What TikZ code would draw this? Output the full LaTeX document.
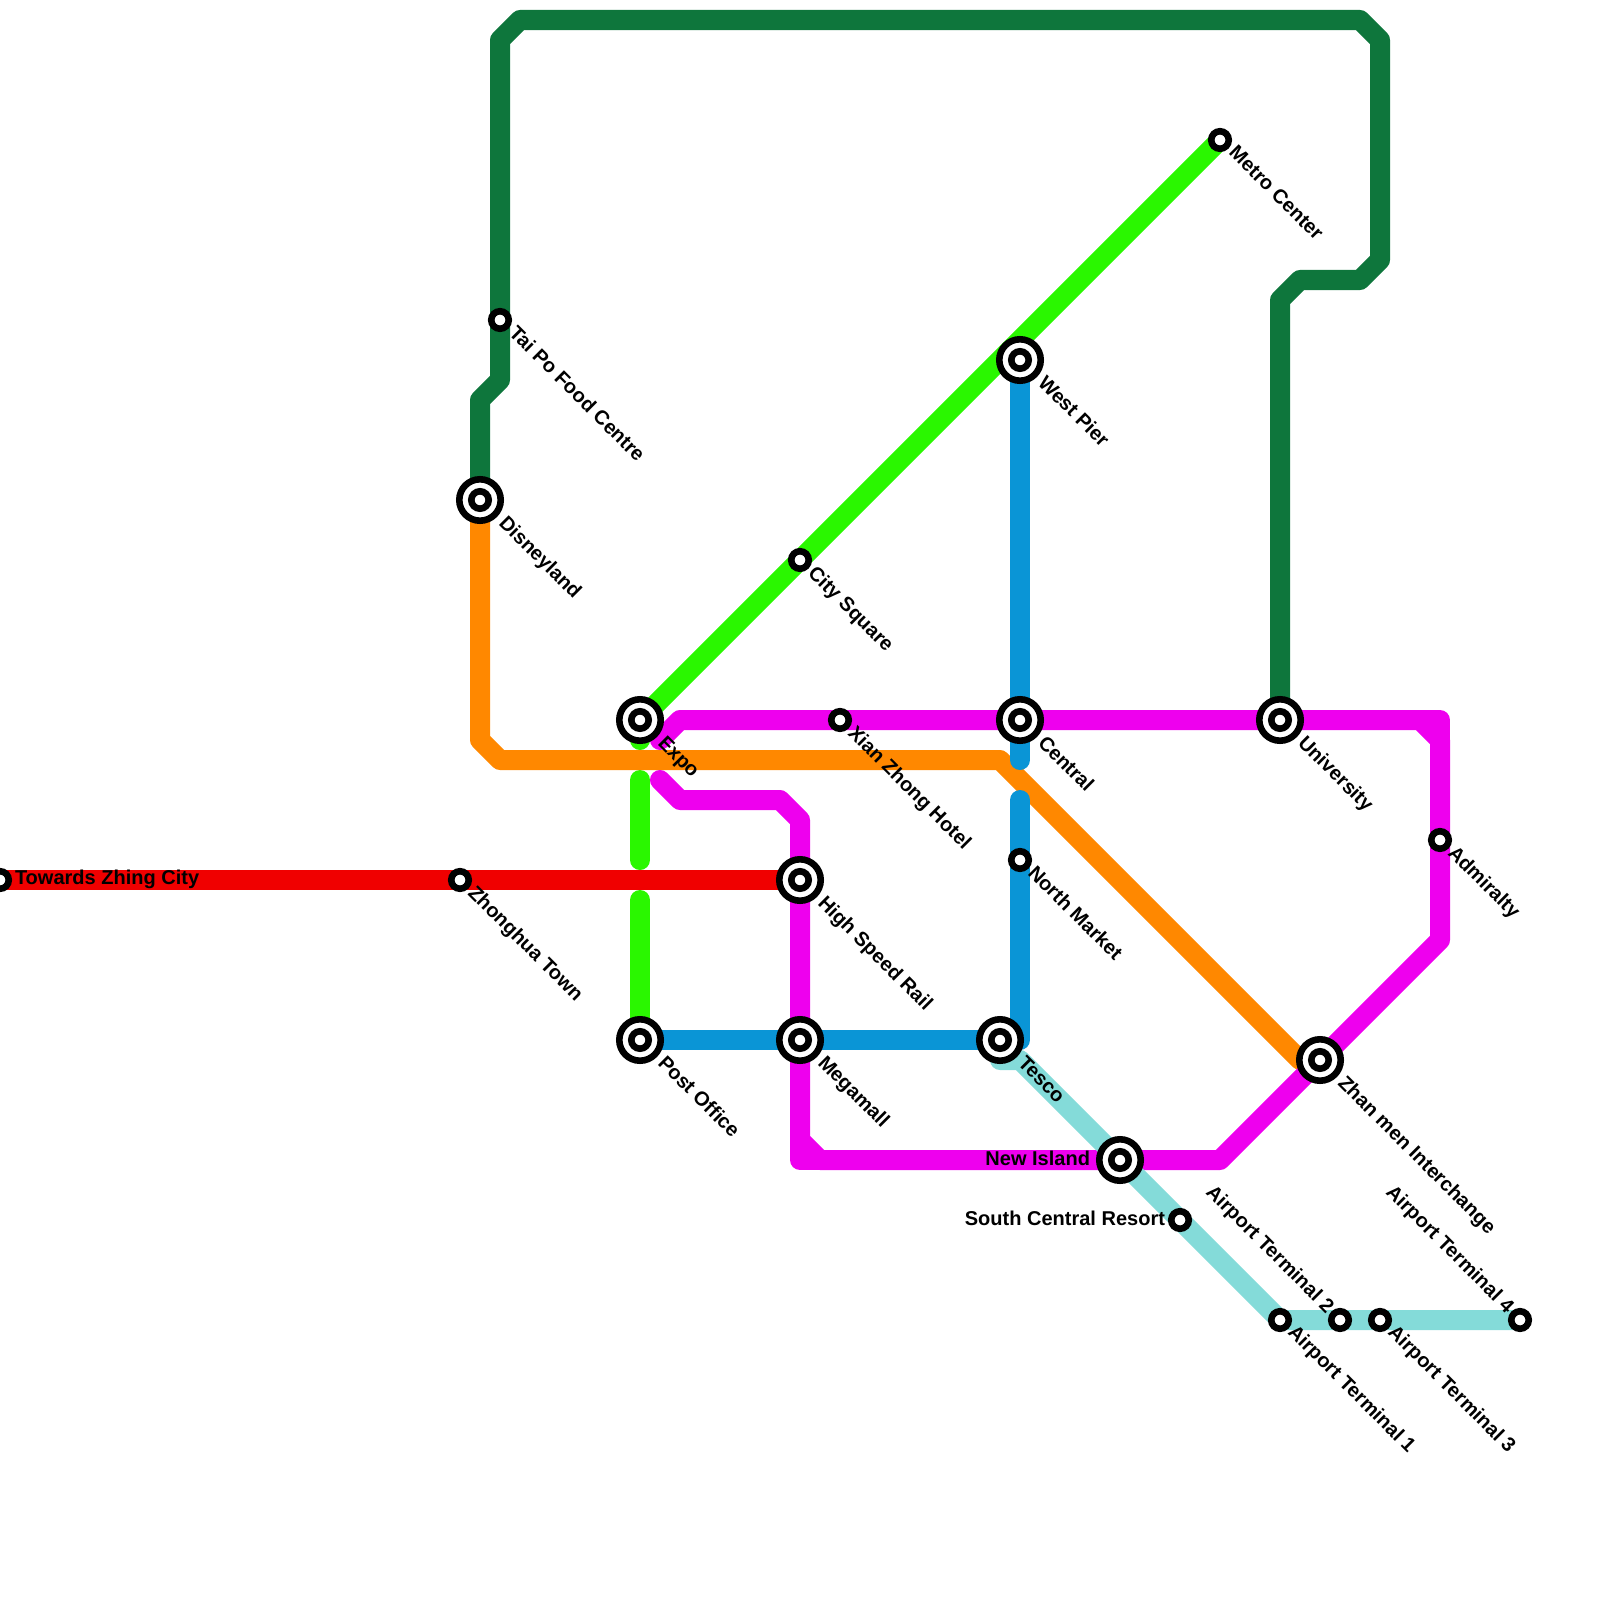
\documentclass[tikz,border=0pt]{standalone}
\usepackage{fontspec}
\setmainfont{Liberation Sans}
\usetikzlibrary{backgrounds}
\definecolor{cDark}{HTML}{0E763C}
\definecolor{cOrange}{HTML}{FF8800}
\definecolor{cGreen}{HTML}{2AF700}
\definecolor{cMag}{HTML}{EE00EE}
\definecolor{cBlue}{HTML}{0A95D6}
\definecolor{cTeal}{HTML}{84DBD9}
\definecolor{cRed}{HTML}{F00000}
\tikzset{
  railline/.style={line width=0.2cm,line join=round,line cap=round},
  smallst/.style={circle,draw=black,fill=white,line width=0.066cm,minimum size=0.175cm,inner sep=0pt,outer sep=0pt},
  bigst/.style={circle,draw=black,fill=white,line width=0.066cm,minimum size=0.414cm,inner sep=0pt,outer sep=0pt,
    path picture={\draw[black,line width=0.066cm] (path picture bounding box.center) circle (0.087cm);}},
  lab/.style={font=\fontsize{5.69}{7}\bfseries\selectfont,inner sep=0pt,outer sep=0pt,text=black},
  dr/.style={lab,anchor=base west,rotate=-45},
  ur/.style={lab,anchor=base east,rotate=-45},
  hl/.style={lab,anchor=base east},
  hr/.style={lab,anchor=base west}
}
\begin{document}
\begin{tikzpicture}[x=0.01cm,y=-0.01cm]
\useasboundingbox (0,0) rectangle (1600,1600);
% stations
\node[smallst] (towards) at (0,880) {};
\node[smallst] (zhonghua) at (460,880) {};
\node[smallst] (taipo) at (500,320) {};
\node[bigst] (disney) at (480,500) {};
\node[bigst] (expo) at (640,720) {};
\node[smallst] (xian) at (840,720) {};
\node[bigst] (central) at (1020,720) {};
\node[bigst] (univ) at (1280,720) {};
\node[smallst] (admiralty) at (1440,840) {};
\node[smallst] (city) at (800,560) {};
\node[bigst] (westpier) at (1020,360) {};
\node[smallst] (metro) at (1220,140) {};
\node[bigst] (hsr) at (800,880) {};
\node[bigst] (mega) at (800,1040) {};
\node[bigst] (post) at (640,1040) {};
\node[bigst] (tesco) at (1000,1040) {};
\node[smallst] (north) at (1020,860) {};
\node[bigst] (zhan) at (1320,1060) {};
\node[bigst] (island) at (1120,1160) {};
\node[smallst] (resort) at (1180,1220) {};
\node[smallst] (at1) at (1280,1320) {};
\node[smallst] (at2) at (1340,1320) {};
\node[smallst] (at3) at (1380,1320) {};
\node[smallst] (at4) at (1520,1320) {};
% waypoints
\coordinate (d1) at (480,400); \coordinate (d2) at (500,380); \coordinate (d3) at (500,40);
\coordinate (d4) at (520,20); \coordinate (d5) at (1360,20); \coordinate (d6) at (1380,40);
\coordinate (d7) at (1380,260); \coordinate (d8) at (1360,280); \coordinate (d9) at (1300,280);
\coordinate (d10) at (1280,300);
\coordinate (o1) at (480,740); \coordinate (o2) at (500,760); \coordinate (o3) at (1000,760);
\coordinate (o4) at (1300,1060);
\coordinate (g1) at (640,740); \coordinate (g2) at (640,780); \coordinate (g3) at (640,860);
\coordinate (g4) at (640,900);
\coordinate (b1) at (1020,760); \coordinate (b2) at (1020,800); \coordinate (b3) at (1020,1040);
\coordinate (t1) at (1000,1060); \coordinate (t2) at (1020,1060);
\coordinate (m1) at (660,740); \coordinate (m2) at (680,720); \coordinate (m3) at (1420,720);
\coordinate (m3a) at (1440,720); \coordinate (m4) at (1440,740); \coordinate (m5) at (1440,940);
\coordinate (m6) at (1220,1160); \coordinate (m7) at (820,1160); \coordinate (m7a) at (800,1160);
\coordinate (m8) at (800,1140); \coordinate (m9) at (800,820); \coordinate (m10) at (780,800);
\coordinate (m11) at (680,800); \coordinate (m12) at (660,780);
\begin{scope}[on background layer]
\draw[railline,cRed] (towards.center) -- (hsr.center);
\draw[railline,cDark] (disney.center) -- (d1) -- (d2) -- (d3) -- (d4) -- (d5) -- (d6) -- (d7) -- (d8) -- (d9) -- (d10) -- (univ.center);
\draw[railline,cGreen] (metro.center) -- (expo.center) -- (g1);
\draw[railline,cGreen] (g2) -- (g3);
\draw[railline,cGreen] (g4) -- (post.center);
\draw[railline,cOrange] (disney.center) -- (o1) -- (o2) -- (o3) -- (o4) -- (zhan.center);
\draw[railline,cMag] (m1) -- (m2) -- (m3) -- (m4) -- (m5) -- (m6) -- (m7) -- (m8) -- (m9) -- (m10) -- (m11) -- (m12);
\draw[railline,cMag] (m3) -- (m3a) -- (m4);
\draw[railline,cMag] (m7) -- (m7a) -- (m8);
\draw[railline,cTeal] (tesco.center) -- (t1) -- (t2) -- (at1.center) -- (at4.center);
\draw[railline,cBlue] (westpier.center) -- (b1);
\draw[railline,cBlue] (b2) -- (b3) -- (post.center);
\end{scope}
% labels
\node[hr] (ltowards) at (15,884.5) {Towards Zhing City};
\node[dr] (lzhonghua) at (467,894) {Zhonghua Town};
\node[dr] (ltaipo) at (508,334) {Tai Po Food Centre};
\node[dr] (ldisney) at (498,524) {Disneyland};
\node[dr] (lexpo) at (657,744) {Expo};
\node[dr] (lxian) at (847,734) {Xian Zhong Hotel};
\node[dr] (lcentral) at (1037,744) {Central};
\node[dr] (luniv) at (1297,744) {University};
\node[dr] (ladmiralty) at (1447,854) {Admiralty};
\node[dr] (lcity) at (807,574) {City Square};
\node[dr] (lwest) at (1037,384) {West Pier};
\node[dr] (lmetro) at (1228,154) {Metro Center};
\node[dr] (lhsr) at (817,904) {High Speed Rail};
\node[dr] (lmega) at (817,1064) {Megamall};
\node[dr] (lpost) at (657,1064) {Post Office};
\node[dr] (ltesco) at (1017,1064) {Tesco};
\node[dr] (lnorth) at (1027,874) {North Market};
\node[dr] (lzhan) at (1337,1084) {Zhan men Interchange};
\node[hl] (lisland) at (1090,1165) {New Island};
\node[hl] (lresort) at (1165,1225) {South Central Resort};
\node[dr] (lat1) at (1287,1333) {Airport Terminal 1};
\node[ur] (lat2) at (1326,1314) {Airport Terminal 2};
\node[dr] (lat3) at (1387,1333) {Airport Terminal 3};
\node[ur] (lat4) at (1506,1314) {Airport Terminal 4};
\end{tikzpicture}
\end{document}
